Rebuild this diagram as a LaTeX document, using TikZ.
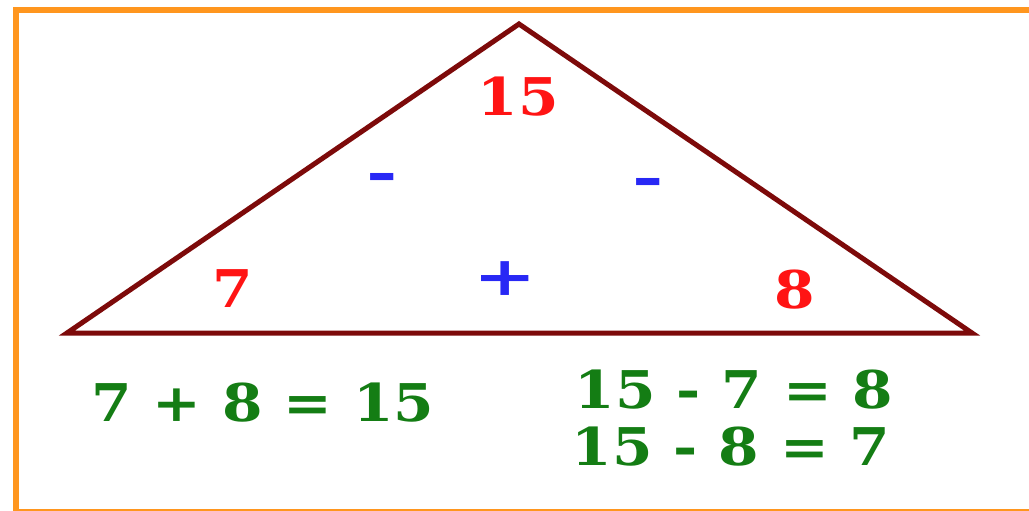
\documentclass[tikz,border=0pt]{standalone}
\usepackage{fontspec}
\setmainfont{DejaVu Serif}
\newfontfamily\widefont[FakeStretch=1.12]{DejaVu Serif}
\newcommand{\factspacing}{\spaceskip=0.4em\relax}
\usetikzlibrary{positioning}

\definecolor{frameorange}{RGB}{255,150,30}
\definecolor{edgebrown}{RGB}{125,10,10}
\definecolor{numred}{RGB}{255,20,20}
\definecolor{signblue}{RGB}{40,40,245}
\definecolor{factgreen}{RGB}{20,125,20}

\begin{document}
\begin{tikzpicture}[x=1pt,y=-1pt,
  num/.style={font=\widefont\fontsize{52}{52}\selectfont\bfseries,text=numred,inner sep=0pt},
  sign/.style={font=\fontsize{54}{54}\selectfont\bfseries,text=signblue,inner sep=0pt},
  fact/.style={font={\widefont\fontsize{52}{52}\selectfont\bfseries\factspacing},text=factgreen,inner sep=0pt}]
\useasboundingbox (0,0) rectangle (1029,511);
\fill[white] (0,0) rectangle (1029,511);
\draw[frameorange,line width=6pt] (16,10) rectangle (1034,512);

% the triangle
\coordinate (top) at (519,24);
\coordinate (left) at (67,333);
\coordinate (right) at (972,333);
\draw[edgebrown,line width=5pt,line join=miter] (top) -- (right) -- (left) -- cycle;

% numbers at the corners
\node[num] (sum) at (518,97) {15};
\node[num] (partA) at (233,289) {7};
\node[num] (partB) at (795,290) {8};

% operation signs
\node[sign] (minusA) at (382,182) {\scalebox{1.4}[1]{-}};
\node[sign] (minusB) at (648,187) {\scalebox{1.4}[1]{-}};
\node[sign] (plus) at (505,279) {\scalebox{1.4}[1]{+}};

% number facts
\node[fact] (addfact) at (263,403) {7 + 8 = 15};
\node[fact] (subfactA) at (734,390) {15 - 7 = 8};
\node[fact] (subfactB) at (731,447) {15 - 8 = 7};

\end{tikzpicture}
\end{document}
